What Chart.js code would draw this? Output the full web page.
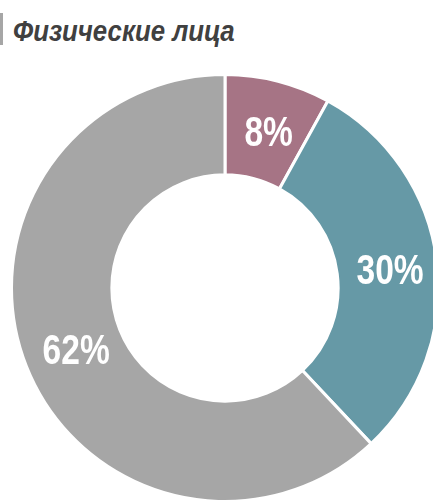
<!DOCTYPE html>
<html>
<head>
<meta charset="utf-8">
<script src="https://cdn.jsdelivr.net/npm/chart.js@4"></script>
<style>
    html, body {
        margin: 0;
        padding: 0;
        width: 433px;
        height: 501px;
        overflow: hidden;
        background: #ffffff;
    }
    .title-bar {
        position: absolute;
        left: 0;
        top: 13px;
        width: 3px;
        height: 32px;
        background: #a6a6a6;
    }
    .title {
        position: absolute;
        left: 13px;
        top: 15px;
        font-family: "Liberation Sans", Arial, sans-serif;
        font-weight: bold;
        font-style: italic;
        font-size: 30px;
        line-height: 32px;
        color: #404040;
        white-space: nowrap;
        transform: scaleX(0.86);
        transform-origin: left center;
    }
    .chart-box {
        position: absolute;
        left: 10px;
        top: 73px;
        width: 430px;
        height: 430px;
    }
</style>
</head>
<body>
<div class="title-bar"></div>
<div class="title">Физические лица</div>
<div class="chart-box"><canvas id="chart"></canvas></div>
<script>
    // Data
    const categories = ['Группа 1', 'Группа 2', 'Группа 3'];
    const shares = [8, 30, 62];

    const sliceColors = ['#a67485', '#6699a6', '#a6a6a6'];

    // Draws the percentage text inside each slice (condensed look)
    const sliceLabels = {
        id: 'sliceLabels',
        afterDatasetsDraw(chart) {
            const ctx = chart.ctx;
            const meta = chart.getDatasetMeta(0);
            const squeeze = 0.78;
            ctx.save();
            ctx.fillStyle = '#ffffff';
            ctx.font = 'bold 43px "Liberation Sans", Arial, sans-serif';
            ctx.textAlign = 'center';
            ctx.textBaseline = 'alphabetic';
            meta.data.forEach((arc, i) => {
                const pos = arc.tooltipPosition();
                ctx.save();
                ctx.translate(pos.x + 3, pos.y + 16);
                ctx.scale(squeeze, 1);
                ctx.fillText(shares[i] + '%', 0, 0);
                ctx.restore();
            });
            ctx.restore();
        }
    };

    const ctx = document.getElementById('chart').getContext('2d');
    new Chart(ctx, {
        type: 'doughnut',
        data: {
            labels: categories,
            datasets: [{
                data: shares,
                backgroundColor: sliceColors,
                borderColor: '#ffffff',
                borderWidth: 3,
                hoverOffset: 0
            }]
        },
        options: {
            responsive: true,
            maintainAspectRatio: false,
            animation: false,
            cutout: '53%',
            layout: {padding: 0},
            plugins: {
                legend: {display: false},
                tooltip: {enabled: false}
            }
        },
        plugins: [sliceLabels]
    });
</script>
</body>
</html>
